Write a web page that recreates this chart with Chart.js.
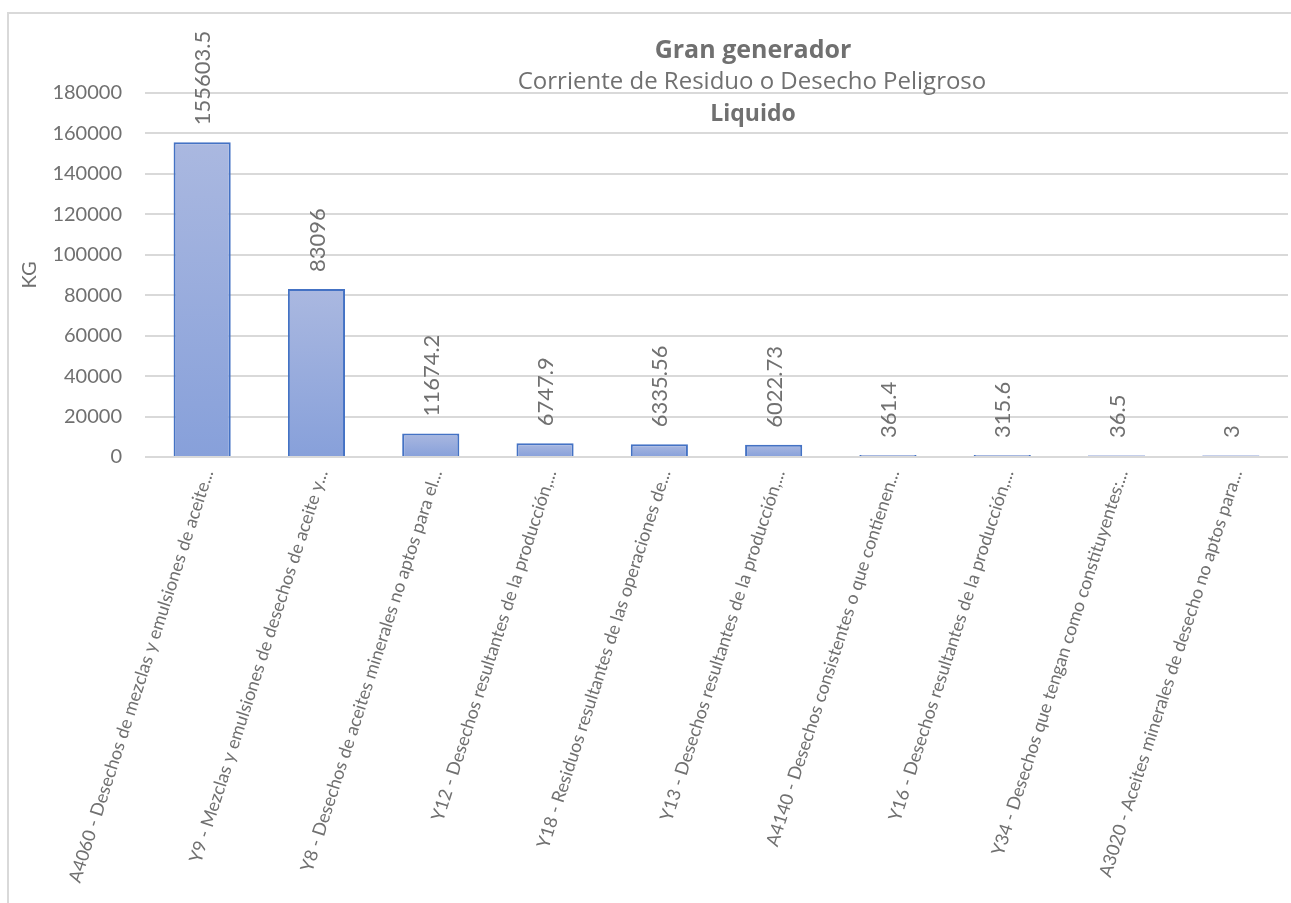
<!DOCTYPE html>
<html>
<head>
<meta charset="utf-8">
<script src="https://cdn.jsdelivr.net/npm/chart.js@4/dist/chart.umd.min.js"></script>
<style>
  html, body { margin: 0; padding: 0; background: #fff; }
  #wrap { position: absolute; left: 0; top: 0; width: 1291px; height: 903px; }
</style>
</head>
<body>
<div id="wrap"><canvas id="grafico"></canvas></div>
<script>
const categorias = [
  'A4060 - Desechos de mezclas y emulsiones de aceite...',
  'Y9 - Mezclas y emulsiones de desechos de aceite y...',
  'Y8 - Desechos de aceites minerales no aptos para el...',
  'Y12 - Desechos resultantes de la producción,...',
  'Y18 - Residuos resultantes de las operaciones de...',
  'Y13 - Desechos resultantes de la producción,...',
  'A4140 - Desechos consistentes o que contienen...',
  'Y16 - Desechos resultantes de la producción,...',
  'Y34 - Desechos que tengan como constituyentes:...',
  'A3020 - Aceites minerales de desecho no aptos para...'
];
const kilos = [155603.5, 83096, 11674.2, 6747.9, 6335.56, 6022.73, 361.4, 315.6, 36.5, 3];
const etiquetas = ['155603.5', '83096', '11674.2', '6747.9', '6335.56', '6022.73', '361.4', '315.6', '36.5', '3'];
const titulos = ['Gran generador', 'Corriente de Residuo o Desecho Peligroso', 'Liquido'];

const gris = '#707070';
const fuente = 'Lato, "Open Sans", sans-serif';
const fuenteTitulo = '"Open Sans", Lato, sans-serif';

// degradado por barra, de arriba (claro) a abajo
function relleno(ctx) {
  const chart = ctx.chart;
  const y = chart.scales.y;
  if (!y || ctx.type !== 'data') return '#9aaedd';
  const top = y.getPixelForValue(kilos[ctx.dataIndex]);
  const base = y.getPixelForValue(0);
  if (!isFinite(top) || base - top < 3) return '#a9b8e1';
  const g = chart.ctx.createLinearGradient(0, top, 0, base);
  g.addColorStop(0, '#aab8e0');
  g.addColorStop(1, '#87a0da');
  return g;
}

// las barras casi nulas se ven como una raya clara
function borde(ctx) {
  const y = ctx.chart.scales.y;
  if (!y || ctx.type !== 'data') return '#4472c4';
  const alto = y.getPixelForValue(0) - y.getPixelForValue(kilos[ctx.dataIndex]);
  return alto < 0.2 ? '#c3cfee' : '#4472c4';
}

const marco = {
  id: 'marco',
  beforeDraw(chart) {
    const c = chart.ctx;
    c.save();
    c.strokeStyle = '#d9d9d9';
    c.lineWidth = 2;
    c.beginPath();
    c.moveTo(8, 903);
    c.lineTo(8, 13);
    c.lineTo(1291, 13);
    c.stroke();
    c.restore();
  }
};

const valores = {
  id: 'valores',
  afterDatasetsDraw(chart) {
    const c = chart.ctx;
    const meta = chart.getDatasetMeta(0);
    c.save();
    c.fillStyle = gris;
    c.font = '22px ' + fuente;
    c.textAlign = 'left';
    c.textBaseline = 'middle';
    meta.data.forEach((bar, i) => {
      c.save();
      c.translate(bar.x + 1, bar.y - 17);
      c.rotate(-Math.PI / 2);
      c.fillText(etiquetas[i], 0, 0);
      c.restore();
    });
    c.restore();
  }
};

const encabezado = {
  id: 'encabezado',
  afterDraw(chart) {
    const c = chart.ctx;
    c.save();
    c.fillStyle = gris;
    c.textAlign = 'center';
    c.textBaseline = 'alphabetic';
    c.font = 'bold 25px ' + fuenteTitulo;
    c.fillText(titulos[0], 753, 58);
    c.font = '24px ' + fuenteTitulo;
    c.fillText(titulos[1], 752, 89);
    c.font = 'bold 23px ' + fuenteTitulo;
    c.fillText(titulos[2], 753, 121);
    c.restore();
  }
};

new Chart(document.getElementById('grafico'), {
  type: 'bar',
  data: {
    labels: categorias,
    datasets: [{
      data: kilos,
      backgroundColor: relleno,
      borderColor: borde,
      borderWidth: 2,
      minBarLength: 2,
      barPercentage: 0.5,
      categoryPercentage: 1
    }]
  },
  options: {
    responsive: true,
    maintainAspectRatio: false,
    animation: false,
    layout: { padding: { top: 93, left: 14, right: 3, bottom: 0 } },
    plugins: {
      legend: { display: false },
      title: { display: false },
      tooltip: { enabled: false }
    },
    scales: {
      x: {
        grid: { display: false },
        border: { display: false },
        ticks: {
          color: gris,
          font: { family: fuente, size: 18 },
          autoSkip: false,
          minRotation: 72,
          maxRotation: 72,
          padding: 2,
          labelOffset: 6
        },
        afterFit(axis) { axis.height = 446; }
      },
      y: {
        min: 0,
        max: 180000,
        ticks: {
          stepSize: 20000,
          color: gris,
          font: { family: fuente, size: 20 },
          padding: 23,
          callback: (v) => String(v)
        },
        grid: { color: '#d9d9d9', lineWidth: 2, drawTicks: false },
        border: { display: false },
        title: {
          display: true,
          text: 'KG',
          color: gris,
          font: { family: fuente, size: 20 },
          padding: { top: 4, bottom: 0 }
        },
        afterFit(axis) { axis.width = 131; }
      }
    }
  },
  plugins: [marco, valores, encabezado]
});
</script>
</body>
</html>
